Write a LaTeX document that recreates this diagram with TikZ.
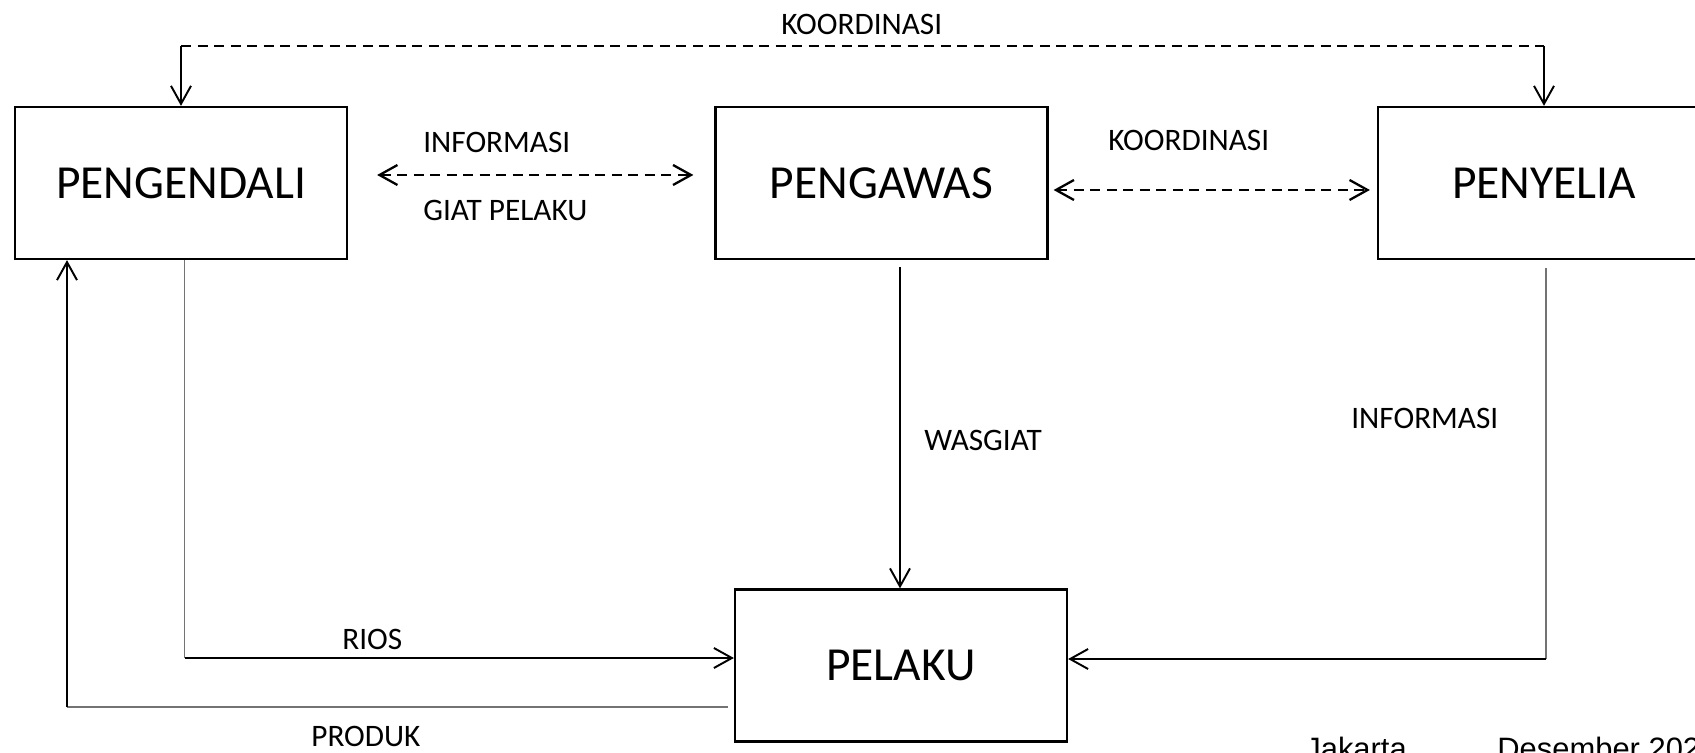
\documentclass[tikz,border=0pt]{standalone}
\usepackage{fontspec}
\setmainfont{Carlito}
\newfontfamily\arialfont{Liberation Sans}
\usetikzlibrary{arrows.meta,calc}
\begin{document}
\begin{tikzpicture}[x=0.02cm,y=-0.02cm,
  box/.style={draw,line width=1.3pt,minimum width=6.64cm,minimum height=3.04cm,inner sep=0pt,font=\fontsize{27}{30}\selectfont},
  lbl/.style={inner sep=0pt,anchor=west,font=\fontsize{17.8}{20}\selectfont},
  conn/.style={line width=1.1pt},
  thinline/.style={line width=0.6pt,black!55},
  dline/.style={line width=1.3pt,dash pattern=on 5.7pt off 3.7pt},
  tip/.style={-{Straight Barb[length=3.6mm,width=4mm]}},
  dtip/.style={{Straight Barb[length=3.6mm,width=4mm]}-{Straight Barb[length=3.6mm,width=4mm]}}]
\useasboundingbox (0,0) rectangle (1695,753);
\clip (0,0) rectangle (1695,753);
\fill[white] (0,0) rectangle (1695,753);
% boxes
\node[box] (pengendali) at (181,183) {PENGENDALI};
\node[box] (pengawas) at (881.5,183) {PENGAWAS};
\node[box] (penyelia) at (1544,183) {PENYELIA};
\node[box] (pelaku) at (901,665.5) {PELAKU};
% top coordination
\coordinate (kl) at (181,46);
\coordinate (kr) at (1544,46);
\draw[dline] (kl) -- (kr);
\draw[conn,tip] (kl) -- (pengendali.north);
\draw[conn,tip] (kr) -- (penyelia.north);
% dashed double arrows
\draw[dline,dtip] ($(pengendali.east)+(29,-8)$) -- ($(pengawas.west)+(-21,-8)$);
\draw[dline,dtip] ($(pengawas.east)+(5,7)$) -- ($(penyelia.west)+(-7,7)$);
% wasgiat
\coordinate (w1) at (900,267);
\draw[conn,tip] (w1) -- (w1 |- pelaku.north);
% rios
\coordinate (r1) at (184.5,658);
\draw[thinline] (pengendali.south -| r1) -- (r1);
\draw[conn,tip] (r1) -- (r1 -| pelaku.west);
% produk
\coordinate (p1) at (67,707);
\draw[thinline] ($(p1 -| pelaku.west)+(-6,0)$) -- (p1);
\draw[conn,tip] (p1) -- (p1 |- pengendali.south);
% informasi right
\coordinate (i1) at (1546,659);
\draw[thinline] ($(penyelia.south -| i1)+(0,8)$) -- (i1);
\draw[conn,tip] (i1) -- (i1 -| pelaku.east);
% labels
\node[lbl] (tkoord) at (781,24) {KOORDINASI};
\node[lbl] (tinfo1) at (423,142) {INFORMASI};
\node[lbl] (tgiat) at (423,210) {GIAT PELAKU};
\node[lbl] (tkoord2) at (1108,140) {KOORDINASI};
\node[lbl] (twas) at (924,440) {WASGIAT};
\node[lbl] (tinfo2) at (1351,418) {INFORMASI};
\node[lbl] (trios) at (342,639) {RIOS};
\node[lbl] (tprod) at (311,736) {PRODUK};
\node[anchor=base west,inner sep=0pt,font=\arialfont\fontsize{17.6}{20}\selectfont] (tdate) at (1305,759) {Jakarta\hspace{51.6pt}Desember 2023};
\end{tikzpicture}
\end{document}
